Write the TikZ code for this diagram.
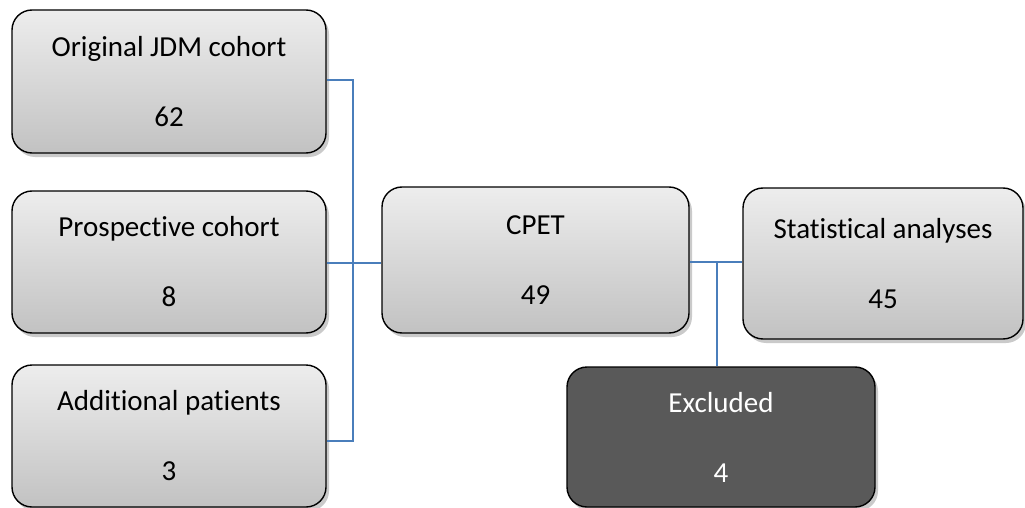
\documentclass[tikz,border=0pt]{standalone}
\usepackage{fontspec}
\setmainfont{Carlito}[Ligatures=NoCommon]
\usetikzlibrary{shadows,calc}
\definecolor{linkblue}{HTML}{4A7EBB}
\definecolor{boxtop}{HTML}{EDEDED}
\definecolor{boxbot}{HTML}{C2C2C2}
\definecolor{darkbox}{HTML}{595959}
\tikzset{
  flowbox/.style={draw=black, line width=1.4pt, rounded corners=20pt,
    top color=boxtop, bottom color=boxbot, align=center, inner sep=0pt,
    font=\fontsize{29}{70}\selectfont, text=black,
    drop shadow={shadow xshift=3pt, shadow yshift=-4pt, opacity=0.35, fill=black!60}},
  darkflowbox/.style={draw=black, line width=1.4pt, rounded corners=20pt,
    fill=darkbox, align=center, inner sep=0pt,
    font=\fontsize{29}{70}\selectfont, text=white,
    drop shadow={shadow xshift=3pt, shadow yshift=-4pt, opacity=0.35, fill=black!60}},
  link/.style={draw=linkblue, line width=1.3pt}
}
\begin{document}
\begin{tikzpicture}[x=1pt,y=-1pt]
\useasboundingbox (0,0) rectangle (1025,508);
\node[flowbox, minimum width=314pt, minimum height=143pt] (b1) at (169,81.5) {Original JDM cohort\\62};
\node[flowbox, minimum width=314pt, minimum height=142pt] (b2) at (169,262) {Prospective cohort\\8};
\node[flowbox, minimum width=314pt, minimum height=142pt] (b3) at (169,436) {Additional patients\\3};
\node[flowbox, minimum width=307pt, minimum height=146pt] (cpet) at (535.5,260) {CPET\\49};
\node[flowbox, minimum width=280pt, minimum height=151pt] (stats) at (883,263.5) {Statistical analyses\\45};
\node[darkflowbox, minimum width=308pt, minimum height=140pt] (excl) at (721,437) {Excluded\\4};
% left merge
\coordinate (m1) at (353,80);
\coordinate (m2) at (353,263);
\coordinate (m3) at (353,441);
\draw[link] (m1 -| b1.east) -- (m1) -- (m3) -- (m3 -| b3.east);
\draw[link] (m2 -| b2.east) -- (m2 -| cpet.west);
% right split
\coordinate (j) at (717,262);
\draw[link] (j -| cpet.east) -- (j -| stats.west);
\draw[link] (j) -- (j |- excl.north);
\end{tikzpicture}
\end{document}
